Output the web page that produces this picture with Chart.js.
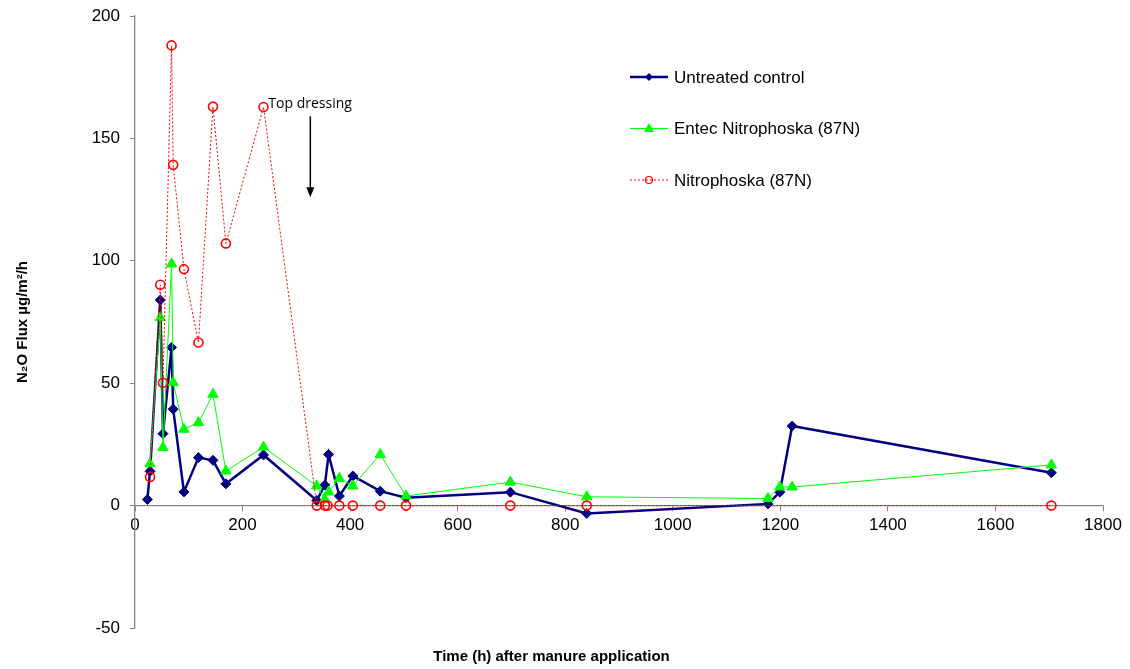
<!DOCTYPE html>
<html>
<head>
<meta charset="utf-8">
<script src="https://cdn.jsdelivr.net/npm/chart.js@4.4.0/dist/chart.umd.min.js"></script>
<style>
html, body { margin: 0; padding: 0; background: #fff; }
</style>
</head>
<body>
<canvas id="graficoFluxo" width="1130" height="669"></canvas>
<script>
// hours after manure application, N2O flux (µg/m²/h)
const untreatedHours = [23, 28, 47, 52, 68, 71, 91, 118, 145, 169, 239, 338, 353, 360, 380, 405, 456, 504, 698, 840, 1177, 1199, 1222, 1704];
const untreatedFlux  = [2.5, 14, 84, 29.4, 64.6, 39.4, 5.6, 19.6, 18.5, 8.9, 20.7, 2.1, 8.4, 20.9, 3.9, 12.1, 5.9, 3.2, 5.5, -3.2, 0.7, 5.5, 32.5, 13.4];

const entecHours = [28, 47, 52, 68, 71, 91, 118, 145, 169, 239, 338, 353, 360, 380, 405, 456, 504, 698, 840, 1177, 1199, 1222, 1704];
const entecFlux  = [17.1, 76.8, 23.7, 98.7, 50.2, 31.2, 33.9, 45.5, 14.1, 23.9, 8, 2.5, 5.6, 11.1, 8, 20.9, 3.9, 9.6, 3.6, 2.9, 7.6, 7.6, 16.6];

const nitroHours = [28, 47, 52, 68, 71, 91, 118, 145, 169, 239, 338, 353, 358, 380, 405, 456, 504, 698, 840, 1704];
const nitroFlux  = [11.7, 90.2, 50.2, 188, 139.2, 96.6, 66.6, 163, 107.1, 162.8, 0, 0, 0, 0, 0, 0, 0, 0, 0, 0];

const seriesNames = ["Untreated control", "Entec Nitrophoska (87N)", "Nitrophoska (87N)"];
const xTicks = { min: 0, max: 1800, step: 200 };
const yTicks = { min: -50, max: 200, step: 50 };

const topDressing = { text: "Top dressing", x: 248, y: 164, arrowX: 326, arrowFrom: 159, arrowTo: 126 };

function pontos(xs, ys) {
    return xs.map((x, i) => ({ x: x, y: ys[i] }));
}

const cinza = "#868686";

// legend + annotation drawn by hand (legend sits inside the plot in the original)
const extras = {
    id: "extras",
    afterDraw(chart) {
        const c = chart.ctx;
        const sx = chart.scales.x, sy = chart.scales.y;

        // annotation
        c.save();
        c.fillStyle = "#000";
        c.font = "14px 'Open Sans'";
        c.textBaseline = "middle";
        c.fillText(topDressing.text, sx.getPixelForValue(topDressing.x), sy.getPixelForValue(topDressing.y));
        const ax = sx.getPixelForValue(topDressing.arrowX);
        const y1 = sy.getPixelForValue(topDressing.arrowFrom);
        const y2 = sy.getPixelForValue(topDressing.arrowTo);
        c.strokeStyle = "#000";
        c.lineWidth = 1.5;
        c.beginPath(); c.moveTo(ax, y1); c.lineTo(ax, y2 - 8); c.stroke();
        c.beginPath(); c.moveTo(ax - 4, y2 - 10); c.lineTo(ax + 4, y2 - 10); c.lineTo(ax, y2); c.closePath(); c.fill();
        c.restore();

        // legend
        chart.data.datasets.forEach((ds, i) => {
            const y = 77 + i * 51.5;
            c.save();
            c.strokeStyle = ds.borderColor;
            c.lineWidth = ds.borderWidth;
            c.setLineDash(ds.borderDash || []);
            c.beginPath(); c.moveTo(630, y); c.lineTo(668, y); c.stroke();
            c.setLineDash([]);
            c.fillStyle = ds.pointBackgroundColor;
            c.strokeStyle = ds.pointBorderColor;
            c.lineWidth = 1.2;
            const mx = 649;
            c.beginPath();
            if (ds.pointStyle === "rectRot") {
                c.moveTo(mx, y - 4); c.lineTo(mx + 4, y); c.lineTo(mx, y + 4); c.lineTo(mx - 4, y); c.closePath(); c.fill();
            } else if (ds.pointStyle === "triangle") {
                c.moveTo(mx, y - 5.5); c.lineTo(mx + 5, y + 3.5); c.lineTo(mx - 5, y + 3.5); c.closePath(); c.fill();
            } else {
                c.arc(mx, y, 3.5, 0, Math.PI * 2); c.fill(); c.stroke();
            }
            c.fillStyle = "#000";
            c.font = "17px 'Liberation Sans', Arial";
            c.textBaseline = "middle";
            c.fillText(ds.label, 674, y + 1);
            c.restore();
        });
    }
};

new Chart(document.getElementById("graficoFluxo"), {
    type: "line",
    data: {
        datasets: [
            {
                label: seriesNames[0],
                data: pontos(untreatedHours, untreatedFlux),
                borderColor: "#000080",
                borderWidth: 2.5,
                pointStyle: "rectRot",
                pointRadius: 5,
                pointBackgroundColor: "#000080",
                pointBorderColor: "#000080",
                pointBorderWidth: 1,
                tension: 0,
                order: 3
            },
            {
                label: seriesNames[1],
                data: pontos(entecHours, entecFlux),
                borderColor: "#00FF00",
                borderWidth: 1,
                pointStyle: "triangle",
                pointRadius: 6,
                pointBackgroundColor: "#00FF00",
                pointBorderColor: "#00FF00",
                pointBorderWidth: 1,
                tension: 0,
                order: 2
            },
            {
                label: seriesNames[2],
                data: pontos(nitroHours, nitroFlux),
                borderColor: "#FF0000",
                borderWidth: 1,
                borderDash: [2, 2],
                pointStyle: "circle",
                pointRadius: 4.5,
                pointBackgroundColor: "rgba(255,255,255,0)",
                pointBorderColor: "#FF0000",
                pointBorderWidth: 1.6,
                tension: 0,
                order: 1
            }
        ]
    },
    options: {
        responsive: false,
        animation: false,
        devicePixelRatio: 1,
        layout: { padding: { left: 0, right: 27, top: 16, bottom: 0 } },
        plugins: {
            legend: { display: false },
            tooltip: { enabled: false },
            title: {
                display: true,
                position: "bottom",
                text: "Time (h) after manure application",
                color: "#000",
                font: { family: "'Liberation Sans', Arial", size: 15, weight: "bold", lineHeight: 1.2 },
                padding: { top: 20, bottom: 3 }
            }
        },
        scales: {
            x: {
                type: "linear",
                position: { y: 0 },
                min: xTicks.min,
                max: xTicks.max,
                afterFit(scale) { scale.height = 19; },
                ticks: {
                    stepSize: xTicks.step,
                    color: "#000",
                    padding: 5,
                    maxRotation: 0,
                    callback: (v) => String(v),
                    font: { family: "'Liberation Sans', Arial", size: 17 }
                },
                grid: { drawOnChartArea: false, drawTicks: true, tickLength: 5, color: cinza },
                border: { display: true, color: cinza, width: 1.3 }
            },
            y: {
                min: yTicks.min,
                max: yTicks.max,
                afterFit(scale) {
                    scale.width = 135;
                    scale.paddingTop = 0;
                    scale.paddingBottom = 0;
                },
                ticks: {
                    stepSize: yTicks.step,
                    color: "#000",
                    padding: 10,
                    callback: (v) => String(v),
                    font: { family: "'Liberation Sans', Arial", size: 17 }
                },
                grid: { drawOnChartArea: false, drawTicks: true, tickLength: 5, color: cinza },
                border: { display: true, color: cinza, width: 1.3 },
                title: {
                    display: true,
                    text: "N₂O Flux µg/m²/h",
                    color: "#000",
                    font: { family: "'Liberation Sans', Arial", size: 15, weight: "bold", lineHeight: 1.2 },
                    padding: { top: 14, bottom: 0 }
                }
            }
        }
    },
    plugins: [extras]
});
</script>
</body>
</html>
